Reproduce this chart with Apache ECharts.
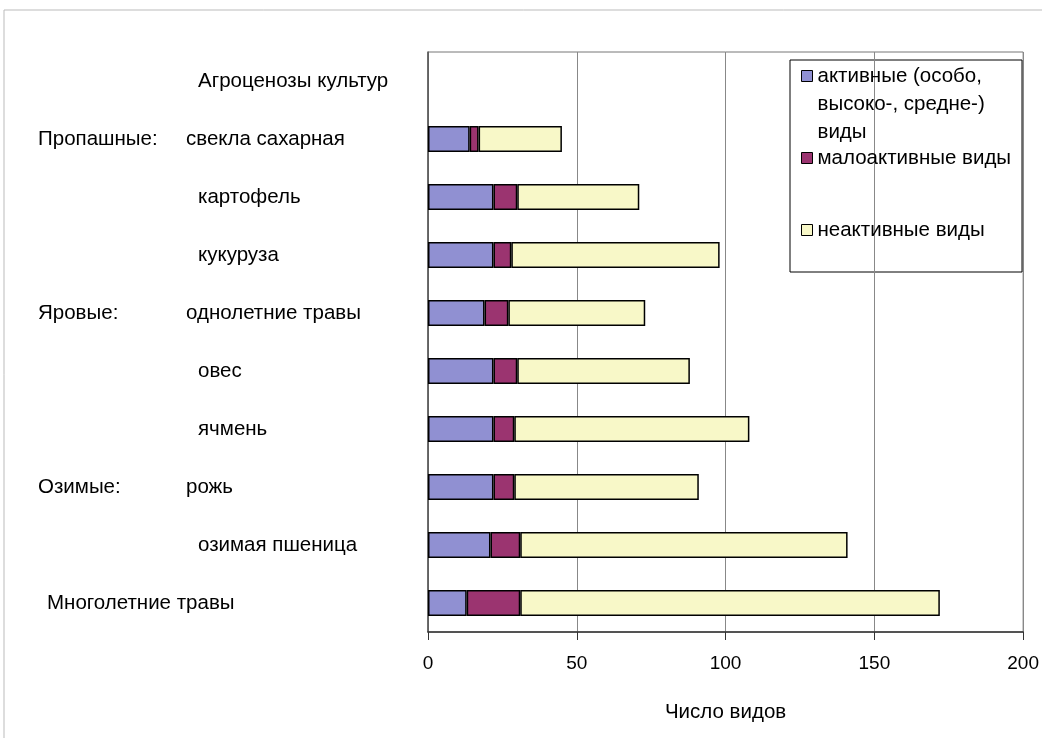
<!DOCTYPE html>
<html>
<head>
<meta charset="utf-8">
<script src="https://cdn.jsdelivr.net/npm/echarts@6/dist/echarts.min.js"></script>
<style>
  html, body { margin: 0; padding: 0; background: #fff; }
  #chart { width: 1042px; height: 738px; }
</style>
</head>
<body>
<div id="chart"></div>
<script>
// культуры сверху вниз
const categories = ['Агроценозы культур', 'свекла сахарная', 'картофель', 'кукуруза', 'однолетние травы', 'овес', 'ячмень', 'рожь', 'озимая пшеница', 'Многолетние травы'];
const groups = ['', 'Пропашные:', '', '', 'Яровые:', '', '', 'Озимые:', '', ''];
const seriesNames = ['активные (особо,\nвысоко-, средне-)\nвиды', 'малоактивные виды', 'неактивные виды'];
const activeVals = [null, 14, 22, 22, 19, 22, 22, 22, 21, 13];
const lowVals = [null, 3, 8, 6, 8, 8, 7, 7, 10, 18];
const inactiveVals = [null, 28, 41, 70, 46, 58, 79, 62, 110, 141];
const xTicks = [0, 50, 100, 150, 200];

const font = 'Liberation Sans, Arial, sans-serif';
const colors = ['#9090d2', '#9b3470', '#f8f8c8'];

let chart = echarts.init(document.getElementById('chart'));

function mkSeries(name, data, color) {
  return {
    name: name,
    type: 'bar',
    stack: 'total',
    barCategoryGap: '55%',
    itemStyle: { color: color, borderColor: '#000', borderWidth: 1.5 },
    data: data
  };
}

function mkLegend(name, top, fmt) {
  return {
    data: [{ name: name, icon: 'rect' }],
    left: 801,
    top: top,
    padding: 0,
    itemWidth: 11,
    itemHeight: 11,
    itemGap: 0,
    formatter: fmt || (n => n),
    itemStyle: { borderColor: '#000', borderWidth: 1 },
    textStyle: { fontFamily: font, fontSize: 20.5, color: '#000', lineHeight: 28 }
  };
}

chart.setOption({
  animation: false,
  color: colors,
  grid: {
    left: 428, right: 18, top: 52, bottom: 106,
    show: true, borderColor: '#777', borderWidth: 1
  },
  legend: [
    // пустые строки сверху, чтобы значок стоял у первой строки
    mkLegend(seriesNames[0], 6, n => '\n\n' + n),
    mkLegend(seriesNames[1], 144),
    mkLegend(seriesNames[2], 216)
  ],
  xAxis: {
    type: 'value',
    min: 0,
    max: 200,
    interval: 50,
    name: 'Число видов',
    nameLocation: 'middle',
    nameGap: 70,
    nameTextStyle: { fontFamily: font, fontSize: 20.5, color: '#000' },
    axisLine: { show: true, lineStyle: { color: '#333', width: 1.5 } },
    axisTick: { show: true, length: 8, lineStyle: { color: '#333' } },
    axisLabel: {
      margin: 22,
      fontFamily: font, fontSize: 19, color: '#000',
      formatter: v => xTicks.includes(v) ? String(v) : ''
    },
    splitLine: { show: true, lineStyle: { color: '#888', width: 1 } }
  },
  yAxis: {
    type: 'category',
    inverse: true,
    data: categories,
    axisLine: { show: true, lineStyle: { color: '#555', width: 1.5 } },
    axisTick: { show: false },
    axisLabel: {
      align: 'left',
      margin: 390,
      fontFamily: font, fontSize: 20.5, color: '#000',
      formatter: function (value, idx) {
        if (groups[idx]) return '{g|' + groups[idx] + '}{n|' + value + '}';
        if (idx === categories.length - 1) return '{m|' + value + '}';
        return '{e|' + value + '}';
      },
      rich: {
        g: { fontFamily: font, fontSize: 20.5, color: '#000', width: 148 },
        n: { fontFamily: font, fontSize: 20.5, color: '#000' },
        e: { fontFamily: font, fontSize: 20.5, color: '#000', padding: [0, 0, 0, 160] },
        m: { fontFamily: font, fontSize: 20.5, color: '#000', padding: [0, 0, 0, 9] }
      }
    }
  },
  graphic: [
    {
      type: 'rect',
      shape: { x: 4, y: 10, width: 1060, height: 760 },
      style: { fill: 'none', stroke: '#bbb', lineWidth: 1 },
      silent: true
    },
    {
      type: 'rect',
      shape: { x: 790, y: 60, width: 232, height: 212 },
      style: { fill: '#fff', stroke: '#000', lineWidth: 1 },
      z: 0,
      silent: true
    }
  ],
  series: [
    mkSeries(seriesNames[0], activeVals, colors[0]),
    mkSeries(seriesNames[1], lowVals, colors[1]),
    mkSeries(seriesNames[2], inactiveVals, colors[2])
  ]
});
</script>
</body>
</html>
